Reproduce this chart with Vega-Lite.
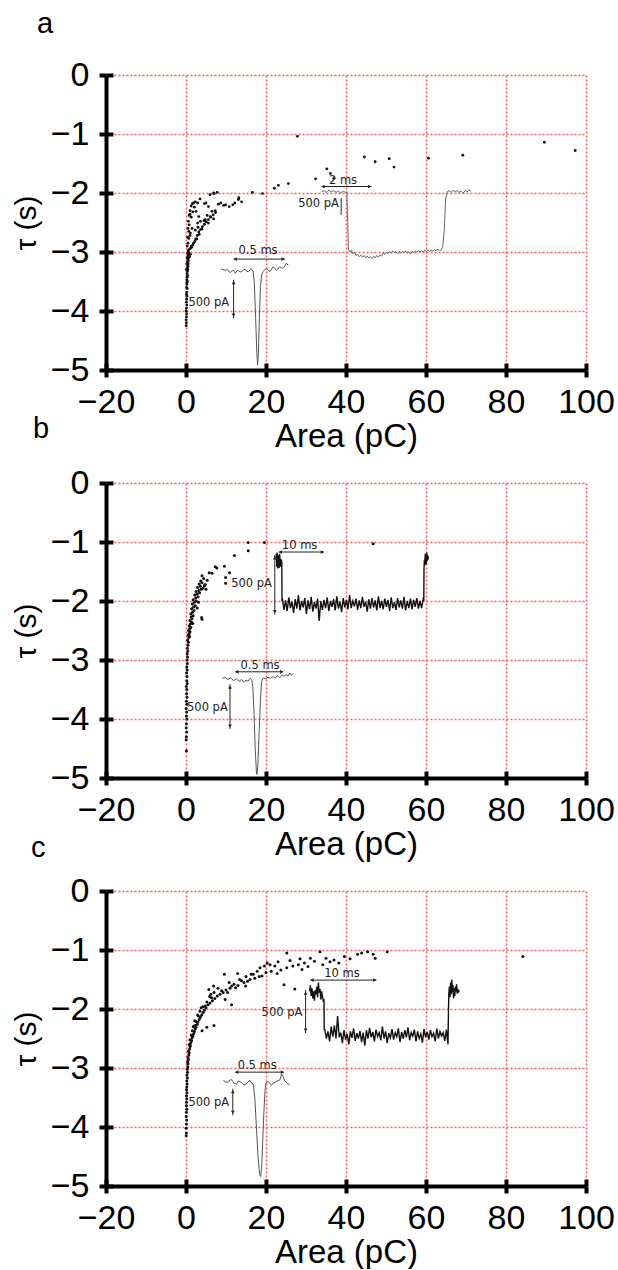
{
  "$schema": "https://vega.github.io/schema/vega-lite/v6.json",
  "background": "white",
  "padding": {"left": 11, "top": 10, "right": 0, "bottom": 0},
  "bounds": "flush",
  "spacing": 113,
  "config": {
    "view": {"stroke": null},
    "font": "Liberation Sans",
    "title": {"font": "Liberation Sans", "fontWeight": "normal", "color": "black", "fontSize": 29, "anchor": "start", "frame": "group", "baseline": "alphabetic"}
  },
  "datasets": {
    "a_pts": [
      {"x":0.05,"y":-4.25},{"x":0.1,"y":-4.2},{"x":0.05,"y":-4.15},{"x":0.12,"y":-4.1},{"x":0.15,"y":-4.05},{"x":0.05,"y":-4.0},{"x":0.1,"y":-3.95},{"x":0.2,"y":-3.9},{"x":0.1,"y":-3.85},{"x":0.15,"y":-3.8},{"x":0.25,"y":-3.75},{"x":0.1,"y":-3.72},{"x":0.2,"y":-3.68},{"x":0.3,"y":-3.62},{"x":0.15,"y":-3.6},{"x":0.25,"y":-3.55},{"x":0.35,"y":-3.5},{"x":0.2,"y":-3.47},{"x":0.3,"y":-3.43},{"x":0.4,"y":-3.4},{"x":0.25,"y":-3.37},{"x":0.35,"y":-3.33},{"x":0.45,"y":-3.3},{"x":0.3,"y":-3.27},{"x":0.5,"y":-3.25},{"x":0.4,"y":-3.22},{"x":0.55,"y":-3.2},{"x":0.35,"y":-3.17},{"x":0.6,"y":-3.15},{"x":0.45,"y":-3.12},{"x":0.65,"y":-3.1},{"x":0.5,"y":-3.07},{"x":0.7,"y":-3.05},{"x":0.4,"y":-3.03},{"x":0.8,"y":-3.02},{"x":0.55,"y":-3.0},{"x":0.2,"y":-3.52},{"x":0.1,"y":-3.3},{"x":0.2,"y":-3.2},{"x":0.3,"y":-3.1},{"x":0.9,"y":-3.08},{"x":1.1,"y":-3.04},
      {"x":0.6,"y":-2.97},{"x":0.9,"y":-2.95},{"x":1.1,"y":-2.94},{"x":1.4,"y":-2.92},{"x":1.3,"y":-2.9},{"x":0.3,"y":-2.9},{"x":1.7,"y":-2.88},{"x":1.9,"y":-2.85},{"x":0.5,"y":-2.85},{"x":2.2,"y":-2.82},{"x":2.4,"y":-2.78},{"x":0.7,"y":-2.77},{"x":2.7,"y":-2.78},{"x":0.4,"y":-2.75},{"x":2.8,"y":-2.72},{"x":1.0,"y":-2.72},{"x":3.3,"y":-2.7},{"x":1.1,"y":-2.68},{"x":3.2,"y":-2.66},{"x":0.7,"y":-2.65},{"x":2.3,"y":-2.63},{"x":3.6,"y":-2.62},{"x":4.0,"y":-2.61},{"x":0.5,"y":-2.6},{"x":1.5,"y":-2.6},{"x":3.0,"y":-2.58},{"x":4.1,"y":-2.57},{"x":0.8,"y":-2.54},{"x":4.6,"y":-2.53},{"x":2.9,"y":-2.51},{"x":5.6,"y":-2.51},{"x":5.1,"y":-2.49},{"x":3.6,"y":-2.48},{"x":0.6,"y":-2.48},{"x":4.5,"y":-2.47},{"x":4.8,"y":-2.45},{"x":5.6,"y":-2.45},{"x":6.9,"y":-2.44},{"x":1.3,"y":-2.41},{"x":6.2,"y":-2.41},{"x":3.2,"y":-2.4},{"x":6.1,"y":-2.4},{"x":0.8,"y":-2.38},{"x":5.3,"y":-2.38},{"x":6.8,"y":-2.37},{"x":1.0,"y":-2.36},{"x":7.4,"y":-2.33},{"x":1.7,"y":-2.32},{"x":2.5,"y":-2.31},{"x":6.5,"y":-2.31},{"x":1.0,"y":-2.3},{"x":7.3,"y":-2.3},{"x":2.1,"y":-2.24},{"x":5.6,"y":-2.23},{"x":1.3,"y":-2.22},{"x":1.6,"y":-2.18},{"x":1.9,"y":-2.17},{"x":2.9,"y":-2.17},{"x":4.6,"y":-2.18},{"x":5.0,"y":-2.17},{"x":2.3,"y":-2.15},{"x":3.5,"y":-2.1},{"x":8.1,"y":-2.19},{"x":9.4,"y":-2.21},{"x":10.8,"y":-2.23},{"x":11.7,"y":-2.2},{"x":8.7,"y":-2.17},{"x":9.9,"y":-2.2},{"x":13.1,"y":-2.11},{"x":13.9,"y":-2.15},{"x":13.2,"y":-2.08},{"x":12.2,"y":-2.17},{"x":6.0,"y":-2.03},{"x":7.0,"y":-2.01},{"x":7.8,"y":-1.99},{"x":6.9,"y":-2.0},{"x":16.6,"y":-1.99},{"x":19.1,"y":-2.01},{"x":22.1,"y":-1.92},{"x":23.1,"y":-1.87},{"x":25.6,"y":-1.84},{"x":32.4,"y":-1.76},{"x":35.2,"y":-1.59},{"x":36.1,"y":-1.67},{"x":37.0,"y":-1.75},{"x":27.85,"y":-1.04},{"x":44.6,"y":-1.39},{"x":47.3,"y":-1.47},{"x":50.8,"y":-1.42},{"x":52.0,"y":-1.56},{"x":60.6,"y":-1.41},{"x":69.2,"y":-1.36},{"x":89.6,"y":-1.14},{"x":97.3,"y":-1.28}
    ],
    "a_spike": [
      {"x":8.8,"y":-3.29},{"x":9.8,"y":-3.31},{"x":10.4,"y":-3.3},{"x":11.0,"y":-3.35},{"x":11.5,"y":-3.32},{"x":11.9,"y":-3.31},{"x":12.3,"y":-3.36},{"x":12.7,"y":-3.32},{"x":13.1,"y":-3.31},{"x":13.5,"y":-3.34},{"x":13.9,"y":-3.33},{"x":14.4,"y":-3.3},{"x":14.8,"y":-3.29},{"x":15.2,"y":-3.33},{"x":15.6,"y":-3.33},{"x":16.0,"y":-3.3},{"x":16.3,"y":-3.28},{"x":16.8,"y":-3.33},{"x":17.1,"y":-3.55},{"x":17.4,"y":-4.1},{"x":17.7,"y":-4.7},{"x":17.9,"y":-4.91},{"x":18.1,"y":-4.72},{"x":18.35,"y":-4.1},{"x":18.6,"y":-3.6},{"x":18.9,"y":-3.39},{"x":19.3,"y":-3.33},{"x":19.8,"y":-3.29},{"x":20.2,"y":-3.28},{"x":20.6,"y":-3.31},{"x":21.0,"y":-3.33},{"x":21.4,"y":-3.29},{"x":21.8,"y":-3.25},{"x":22.2,"y":-3.28},{"x":22.7,"y":-3.31},{"x":23.1,"y":-3.27},{"x":23.5,"y":-3.25},{"x":23.9,"y":-3.27},{"x":24.3,"y":-3.27},{"x":24.7,"y":-3.24},{"x":25.1,"y":-3.19},{"x":25.6,"y":-3.23}
    ],
    "a_step": [
      {"x":33.9,"y":-1.98},{"x":34.5,"y":-1.96},{"x":35.1,"y":-1.99},{"x":35.7,"y":-1.95},{"x":36.3,"y":-1.98},{"x":36.9,"y":-1.96},{"x":37.5,"y":-1.99},{"x":38.1,"y":-1.97},{"x":38.7,"y":-2.0},{"x":39.3,"y":-1.97},{"x":39.9,"y":-1.99},{"x":40.2,"y":-1.98},{"x":40.45,"y":-2.5},{"x":40.6,"y":-2.95},{"x":40.9,"y":-3.0},{"x":41.3,"y":-2.97},{"x":41.7,"y":-3.03},{"x":42.1,"y":-3.0},{"x":42.5,"y":-3.06},{"x":42.9,"y":-3.04},{"x":43.3,"y":-3.08},{"x":43.7,"y":-3.05},{"x":44.1,"y":-3.09},{"x":44.5,"y":-3.06},{"x":44.9,"y":-3.1},{"x":45.3,"y":-3.07},{"x":45.7,"y":-3.1},{"x":46.1,"y":-3.08},{"x":46.5,"y":-3.11},{"x":46.9,"y":-3.07},{"x":47.3,"y":-3.1},{"x":47.7,"y":-3.06},{"x":48.1,"y":-3.09},{"x":48.5,"y":-3.05},{"x":48.9,"y":-3.07},{"x":49.3,"y":-3.02},{"x":49.7,"y":-3.04},{"x":50.1,"y":-3.0},{"x":50.5,"y":-3.03},{"x":50.9,"y":-2.99},{"x":51.3,"y":-3.02},{"x":51.7,"y":-2.98},{"x":52.1,"y":-3.01},{"x":52.5,"y":-3.0},{"x":52.9,"y":-3.03},{"x":53.3,"y":-2.99},{"x":53.7,"y":-3.02},{"x":54.1,"y":-2.99},{"x":54.5,"y":-3.01},{"x":54.9,"y":-2.98},{"x":55.3,"y":-3.02},{"x":55.7,"y":-3.0},{"x":56.1,"y":-3.03},{"x":56.5,"y":-2.99},{"x":56.9,"y":-3.01},{"x":57.3,"y":-2.98},{"x":57.7,"y":-3.0},{"x":58.1,"y":-2.97},{"x":58.5,"y":-3.0},{"x":58.9,"y":-2.98},{"x":59.3,"y":-3.0},{"x":59.7,"y":-2.97},{"x":60.1,"y":-2.99},{"x":60.5,"y":-2.96},{"x":60.9,"y":-2.99},{"x":61.3,"y":-2.97},{"x":61.7,"y":-2.99},{"x":62.1,"y":-2.96},{"x":62.5,"y":-2.98},{"x":62.9,"y":-2.95},{"x":63.3,"y":-2.97},{"x":63.7,"y":-2.98},{"x":64.2,"y":-2.9},{"x":64.6,"y":-2.6},{"x":64.9,"y":-2.1},{"x":65.3,"y":-1.98},{"x":65.8,"y":-1.96},{"x":66.3,"y":-1.99},{"x":66.8,"y":-1.95},{"x":67.3,"y":-1.98},{"x":67.8,"y":-1.96},{"x":68.3,"y":-1.99},{"x":68.8,"y":-1.97},{"x":69.3,"y":-2.0},{"x":69.8,"y":-1.96},{"x":70.3,"y":-1.98},{"x":70.8,"y":-1.95},{"x":71.3,"y":-1.97}
    ],
    "a_rules": [
      {"x":11.9,"x2":24.7,"y":-3.12,"y2":-3.12},{"x":11.9,"x2":11.9,"y":-3.47,"y2":-4.12},{"x":33.85,"x2":46.3,"y":-1.89,"y2":-1.89},{"x":38.8,"x2":38.8,"y":-2.09,"y2":-2.37}
    ],
    "a_heads": [
      {"x":12.3,"y":-3.12,"d":"left"},{"x":24.3,"y":-3.12,"d":"right"},{"x":11.9,"y":-3.52,"d":"up"},{"x":11.9,"y":-4.07,"d":"down"},{"x":34.25,"y":-1.89,"d":"left"},{"x":45.9,"y":-1.89,"d":"right"}
    ],
    "a_ms": [{"x":18.0,"y":-2.98,"t":"0.5 ms"},{"x":39.25,"y":-1.79,"t":"2 ms"}],
    "a_pa": [{"x":10.8,"y":-3.86,"t":"500 pA"},{"x":38.25,"y":-2.19,"t":"500 pA"}],
    "b_pts": [
      {"x":0.1,"y":-4.54},{"x":0.05,"y":-4.35},{"x":0.1,"y":-4.3},{"x":0.15,"y":-4.22},{"x":0.05,"y":-4.15},{"x":0.1,"y":-4.08},{"x":0.2,"y":-4.0},{"x":0.1,"y":-3.95},{"x":0.15,"y":-3.88},{"x":0.05,"y":-3.82},{"x":0.2,"y":-3.75},{"x":0.1,"y":-3.7},{"x":0.25,"y":-3.63},{"x":0.15,"y":-3.57},{"x":0.2,"y":-3.5},{"x":0.1,"y":-3.45},{"x":0.3,"y":-3.4},{"x":0.2,"y":-3.35},{"x":0.25,"y":-3.28},{"x":0.15,"y":-3.22},{"x":0.3,"y":-3.17},{"x":0.2,"y":-3.12},{"x":0.35,"y":-3.06},{"x":0.25,"y":-3.0},{"x":0.4,"y":-2.95},{"x":0.3,"y":-2.9},{"x":0.45,"y":-2.85},{"x":0.35,"y":-2.8},{"x":0.5,"y":-2.75},{"x":0.6,"y":-2.7},{"x":0.4,"y":-2.66},{"x":0.7,"y":-2.62},{"x":0.55,"y":-2.58},{"x":0.8,"y":-2.55},{"x":1.0,"y":-2.52},{"x":0.65,"y":-2.5},{"x":0.9,"y":-2.47},{"x":1.2,"y":-2.45},{"x":0.8,"y":-2.42},{"x":1.1,"y":-2.39},{"x":1.4,"y":-2.36},{"x":1.0,"y":-2.33},{"x":1.5,"y":-2.3},{"x":1.3,"y":-2.27},{"x":1.8,"y":-2.25},{"x":1.2,"y":-2.22},{"x":1.6,"y":-2.19},{"x":2.0,"y":-2.16},{"x":1.4,"y":-2.13},{"x":1.9,"y":-2.1},{"x":2.3,"y":-2.08},{"x":1.6,"y":-2.05},{"x":2.1,"y":-2.02},{"x":2.6,"y":-2.0},{"x":1.8,"y":-1.98},{"x":2.4,"y":-1.95},{"x":3.0,"y":-1.93},{"x":2.2,"y":-1.9},{"x":2.8,"y":-1.88},{"x":3.4,"y":-1.86},{"x":2.5,"y":-1.84},{"x":3.2,"y":-1.82},{"x":3.8,"y":-1.8},{"x":4.3,"y":-1.78},{"x":2.9,"y":-1.77},{"x":3.6,"y":-1.75},{"x":4.6,"y":-1.74},{"x":5.0,"y":-1.8},{"x":3.3,"y":-1.71},{"x":4.0,"y":-1.69},{"x":4.8,"y":-1.72},{"x":3.7,"y":-1.66},{"x":4.4,"y":-1.62},{"x":5.3,"y":-1.65},{"x":4.0,"y":-2.31},{"x":3.9,"y":-2.28},{"x":5.8,"y":-1.52},{"x":4.0,"y":-1.57},{"x":6.5,"y":-1.53},{"x":7.3,"y":-1.42},{"x":7.7,"y":-1.44},{"x":9.6,"y":-1.41},{"x":10.9,"y":-1.52},{"x":9.9,"y":-1.6},{"x":9.9,"y":-1.7},{"x":12.1,"y":-1.23},{"x":15.55,"y":-1.01},{"x":15.55,"y":-1.15},{"x":19.6,"y":-1.01},{"x":46.8,"y":-1.03},{"x":2.8,"y":-2.12},{"x":3.1,"y":-2.02},{"x":0.9,"y":-2.6},{"x":1.7,"y":-2.38}
    ],
    "b_spike": [
      {"x":9.1,"y":-3.31},{"x":9.8,"y":-3.3},{"x":10.5,"y":-3.33},{"x":11.2,"y":-3.3},{"x":11.9,"y":-3.35},{"x":12.6,"y":-3.32},{"x":13.3,"y":-3.36},{"x":13.9,"y":-3.33},{"x":14.5,"y":-3.38},{"x":15.0,"y":-3.34},{"x":15.5,"y":-3.36},{"x":16.0,"y":-3.31},{"x":16.4,"y":-3.33},{"x":16.7,"y":-3.45},{"x":17.0,"y":-3.9},{"x":17.3,"y":-4.5},{"x":17.6,"y":-4.9},{"x":17.75,"y":-4.94},{"x":17.95,"y":-4.8},{"x":18.3,"y":-4.2},{"x":18.6,"y":-3.7},{"x":18.9,"y":-3.36},{"x":19.3,"y":-3.31},{"x":19.9,"y":-3.32},{"x":20.5,"y":-3.29},{"x":21.1,"y":-3.31},{"x":21.7,"y":-3.28},{"x":22.3,"y":-3.3},{"x":22.9,"y":-3.27},{"x":23.5,"y":-3.3},{"x":24.0,"y":-3.25},{"x":24.5,"y":-3.28},{"x":25.0,"y":-3.25},{"x":25.5,"y":-3.27},{"x":26.0,"y":-3.22},{"x":26.4,"y":-3.26},{"x":26.8,"y":-3.23}
    ],
    "b_step": [
      {"x":22.55,"y":-1.3},{"x":22.6,"y":-1.2},{"x":22.7,"y":-1.42},{"x":22.8,"y":-1.18},{"x":22.9,"y":-1.45},{"x":23.0,"y":-1.22},{"x":23.1,"y":-1.4},{"x":23.2,"y":-1.25},{"x":23.3,"y":-1.44},{"x":23.4,"y":-1.2},{"x":23.5,"y":-1.38},{"x":23.6,"y":-1.28},{"x":23.7,"y":-1.42},{"x":23.8,"y":-1.3},{"x":23.95,"y":-1.35},{"x":24.0,"y":-2.0},
      {"x":24.1,"y":-1.96},{"x":24.5,"y":-2.15},{"x":24.9,"y":-1.99},{"x":25.3,"y":-2.17},{"x":25.7,"y":-1.94},{"x":26.1,"y":-2.12},{"x":26.5,"y":-2.01},{"x":26.9,"y":-2.2},{"x":27.3,"y":-1.97},{"x":27.7,"y":-2.13},{"x":28.1,"y":-1.9},{"x":28.5,"y":-2.16},{"x":28.9,"y":-2.0},{"x":29.3,"y":-2.11},{"x":29.7,"y":-1.95},{"x":30.1,"y":-2.22},{"x":30.5,"y":-1.99},{"x":30.9,"y":-2.14},{"x":31.3,"y":-1.93},{"x":31.7,"y":-2.18},{"x":32.1,"y":-2.02},{"x":32.5,"y":-2.13},{"x":32.9,"y":-1.96},{"x":33.3,"y":-2.34},{"x":33.7,"y":-2.0},{"x":34.1,"y":-2.15},{"x":34.5,"y":-1.98},{"x":34.9,"y":-2.12},{"x":35.3,"y":-1.94},{"x":35.7,"y":-2.17},{"x":36.1,"y":-2.0},{"x":36.5,"y":-2.1},{"x":36.9,"y":-1.97},{"x":37.3,"y":-2.16},{"x":37.7,"y":-1.92},{"x":38.1,"y":-2.13},{"x":38.5,"y":-2.01},{"x":38.9,"y":-2.19},{"x":39.3,"y":-1.95},{"x":39.7,"y":-2.11},{"x":40.1,"y":-1.98},{"x":40.5,"y":-2.14},{"x":40.9,"y":-1.9},{"x":41.3,"y":-2.12},{"x":41.7,"y":-2.0},{"x":42.1,"y":-2.09},{"x":42.5,"y":-1.96},{"x":42.9,"y":-2.15},{"x":43.3,"y":-1.99},{"x":43.7,"y":-2.12},{"x":44.1,"y":-1.93},{"x":44.5,"y":-2.1},{"x":44.9,"y":-2.01},{"x":45.3,"y":-2.18},{"x":45.7,"y":-1.97},{"x":46.1,"y":-2.13},{"x":46.5,"y":-1.95},{"x":46.9,"y":-2.11},{"x":47.3,"y":-1.99},{"x":47.7,"y":-2.16},{"x":48.1,"y":-1.92},{"x":48.5,"y":-2.12},{"x":48.9,"y":-2.0},{"x":49.3,"y":-2.14},{"x":49.7,"y":-1.96},{"x":50.1,"y":-2.1},{"x":50.5,"y":-1.98},{"x":50.9,"y":-2.17},{"x":51.3,"y":-1.94},{"x":51.7,"y":-2.12},{"x":52.1,"y":-2.02},{"x":52.5,"y":-2.15},{"x":52.9,"y":-1.95},{"x":53.3,"y":-2.11},{"x":53.7,"y":-1.99},{"x":54.1,"y":-2.13},{"x":54.5,"y":-1.93},{"x":54.9,"y":-2.16},{"x":55.3,"y":-2.0},{"x":55.7,"y":-2.12},{"x":56.1,"y":-1.96},{"x":56.5,"y":-2.14},{"x":56.9,"y":-1.98},{"x":57.3,"y":-2.1},{"x":57.7,"y":-1.95},{"x":58.1,"y":-2.13},{"x":58.5,"y":-2.0},{"x":58.9,"y":-2.12},{"x":59.3,"y":-1.97},
      {"x":59.45,"y":-2.0},{"x":59.5,"y":-1.45},{"x":59.6,"y":-1.3},{"x":59.7,"y":-1.4},{"x":59.8,"y":-1.2},{"x":59.9,"y":-1.35},{"x":60.0,"y":-1.22},{"x":60.1,"y":-1.38},{"x":60.2,"y":-1.18},{"x":60.3,"y":-1.32},{"x":60.4,"y":-1.22},{"x":60.5,"y":-1.3},{"x":60.6,"y":-1.25}
    ],
    "b_rules": [
      {"x":23.2,"x2":34.5,"y":-1.17,"y2":-1.17},{"x":22.2,"x2":22.2,"y":-1.22,"y2":-2.23},{"x":12.3,"x2":24.3,"y":-3.2,"y2":-3.2},{"x":11.0,"x2":11.0,"y":-3.41,"y2":-4.17}
    ],
    "b_heads": [
      {"x":23.6,"y":-1.17,"d":"left"},{"x":34.1,"y":-1.17,"d":"right"},{"x":22.2,"y":-1.27,"d":"up"},{"x":22.2,"y":-2.18,"d":"down"},{"x":12.7,"y":-3.2,"d":"left"},{"x":23.9,"y":-3.2,"d":"right"},{"x":11.0,"y":-3.46,"d":"up"},{"x":11.0,"y":-4.12,"d":"down"}
    ],
    "b_ms": [{"x":28.4,"y":-1.06,"t":"10 ms"},{"x":18.5,"y":-3.1,"t":"0.5 ms"}],
    "b_pa": [{"x":21.5,"y":-1.72,"t":"500 pA"},{"x":10.45,"y":-3.81,"t":"500 pA"}],
    "c_pts": [
      {"x":0.05,"y":-4.15},{"x":0.1,"y":-4.1},{"x":0.05,"y":-4.02},{"x":0.1,"y":-3.95},{"x":0.15,"y":-3.88},{"x":0.05,"y":-3.82},{"x":0.1,"y":-3.75},{"x":0.2,"y":-3.7},{"x":0.1,"y":-3.64},{"x":0.15,"y":-3.58},{"x":0.2,"y":-3.52},{"x":0.1,"y":-3.47},{"x":0.25,"y":-3.42},{"x":0.15,"y":-3.37},{"x":0.2,"y":-3.32},{"x":0.3,"y":-3.27},{"x":0.2,"y":-3.22},{"x":0.35,"y":-3.17},{"x":0.25,"y":-3.12},{"x":0.4,"y":-3.07},{"x":0.3,"y":-3.02},{"x":0.45,"y":-2.98},{"x":0.5,"y":-2.93},{"x":0.4,"y":-2.9},{"x":0.6,"y":-2.86},{"x":0.5,"y":-2.82},{"x":0.7,"y":-2.78},{"x":0.8,"y":-2.74},{"x":0.6,"y":-2.71},{"x":0.9,"y":-2.68},{"x":1.0,"y":-2.64},{"x":1.1,"y":-2.62},{"x":0.8,"y":-2.6},{"x":1.2,"y":-2.57},{"x":1.4,"y":-2.54},{"x":1.0,"y":-2.52},{"x":1.5,"y":-2.49},{"x":1.7,"y":-2.46},{"x":1.3,"y":-2.44},{"x":1.5,"y":-2.45},{"x":1.9,"y":-2.42},{"x":2.1,"y":-2.38},{"x":1.6,"y":-2.37},{"x":2.3,"y":-2.34},{"x":2.5,"y":-2.31},{"x":2.0,"y":-2.29},{"x":2.3,"y":-2.28},{"x":2.8,"y":-2.26},{"x":3.0,"y":-2.22},{"x":2.5,"y":-2.21},{"x":3.3,"y":-2.18},{"x":3.1,"y":-2.12},{"x":3.6,"y":-2.14},{"x":2.9,"y":-2.1},{"x":3.9,"y":-2.1},{"x":4.3,"y":-2.06},{"x":3.5,"y":-2.04},{"x":4.6,"y":-2.02},{"x":4.8,"y":-1.95},{"x":5.0,"y":-1.98},{"x":4.2,"y":-1.96},{"x":5.5,"y":-1.93},{"x":6.0,"y":-1.9},{"x":5.2,"y":-1.88},{"x":6.4,"y":-1.81},{"x":6.6,"y":-1.86},{"x":7.2,"y":-1.82},{"x":5.9,"y":-1.79},{"x":7.8,"y":-1.78},{"x":8.5,"y":-1.75},{"x":8.9,"y":-1.69},{"x":7.0,"y":-1.72},{"x":9.3,"y":-1.72},{"x":10.0,"y":-1.68},{"x":6.9,"y":-1.61},{"x":5.7,"y":-1.67},{"x":9.8,"y":-1.84},{"x":11.4,"y":-1.93},{"x":10.4,"y":-1.72},{"x":11.0,"y":-1.65},{"x":11.4,"y":-1.61},{"x":12.4,"y":-1.64},{"x":12.0,"y":-1.58},{"x":13.0,"y":-1.6},{"x":13.9,"y":-1.52},{"x":14.9,"y":-1.61},{"x":15.4,"y":-1.53},{"x":13.4,"y":-1.5},{"x":14.5,"y":-1.55},{"x":16.0,"y":-1.5},{"x":16.3,"y":-1.41},{"x":16.8,"y":-1.41},{"x":17.8,"y":-1.36},{"x":18.3,"y":-1.45},{"x":17.2,"y":-1.48},{"x":19.0,"y":-1.44},{"x":19.6,"y":-1.27},{"x":20.3,"y":-1.22},{"x":20.0,"y":-1.38},{"x":21.3,"y":-1.36},{"x":22.2,"y":-1.27},{"x":22.8,"y":-1.4},{"x":23.7,"y":-1.34},{"x":24.5,"y":-1.59},{"x":25.2,"y":-1.3},{"x":25.2,"y":-1.05},{"x":26.7,"y":-1.27},{"x":27.2,"y":-1.66},{"x":28.1,"y":-1.25},{"x":29.0,"y":-1.33},{"x":29.6,"y":-1.22},{"x":30.5,"y":-1.28},{"x":31.1,"y":-1.14},{"x":32.1,"y":-1.19},{"x":33.5,"y":-1.03},{"x":34.2,"y":-1.25},{"x":35.0,"y":-1.14},{"x":36.0,"y":-1.2},{"x":37.0,"y":-1.17},{"x":38.2,"y":-1.22},{"x":39.6,"y":-1.11},{"x":41.0,"y":-1.15},{"x":42.9,"y":-1.07},{"x":43.9,"y":-1.05},{"x":45.4,"y":-1.03},{"x":46.8,"y":-1.07},{"x":47.3,"y":-1.14},{"x":50.3,"y":-1.03},{"x":84.2,"y":-1.11},{"x":9.6,"y":-1.41},{"x":12.9,"y":-1.4},{"x":7.0,"y":-2.28},{"x":4.0,"y":-2.37},{"x":5.2,"y":-2.31},{"x":8.0,"y":-1.65},{"x":10.8,"y":-1.55},{"x":15.0,"y":-1.45},{"x":18.5,"y":-1.3},{"x":21.0,"y":-1.25},{"x":23.0,"y":-1.2},{"x":26.0,"y":-1.18},{"x":28.5,"y":-1.15},{"x":2.2,"y":-2.2},{"x":3.8,"y":-1.98},{"x":6.2,"y":-1.75},{"x":1.8,"y":-2.3}
    ],
    "c_spike": [
      {"x":9.35,"y":-3.21},{"x":10.0,"y":-3.24},{"x":10.6,"y":-3.24},{"x":11.0,"y":-3.2},{"x":11.4,"y":-3.2},{"x":12.0,"y":-3.26},{"x":12.7,"y":-3.27},{"x":13.1,"y":-3.22},{"x":13.5,"y":-3.23},{"x":14.2,"y":-3.27},{"x":14.8,"y":-3.29},{"x":15.4,"y":-3.24},{"x":16.0,"y":-3.21},{"x":16.4,"y":-3.26},{"x":16.8,"y":-3.27},{"x":17.2,"y":-3.5},{"x":17.6,"y":-4.0},{"x":18.0,"y":-4.5},{"x":18.4,"y":-4.8},{"x":18.66,"y":-4.84},{"x":18.9,"y":-4.7},{"x":19.2,"y":-4.2},{"x":19.5,"y":-3.7},{"x":19.8,"y":-3.35},{"x":20.0,"y":-3.25},{"x":20.6,"y":-3.23},{"x":21.0,"y":-3.27},{"x":21.4,"y":-3.29},{"x":21.8,"y":-3.25},{"x":22.2,"y":-3.25},{"x":22.8,"y":-3.22},{"x":23.5,"y":-3.2},{"x":23.9,"y":-3.1},{"x":24.3,"y":-3.15},{"x":24.7,"y":-3.22},{"x":25.1,"y":-3.24},{"x":25.5,"y":-3.27},{"x":25.9,"y":-3.28}
    ],
    "c_step": [
      {"x":30.9,"y":-1.7},{"x":31.1,"y":-1.6},{"x":31.3,"y":-1.78},{"x":31.5,"y":-1.65},{"x":31.7,"y":-1.82},{"x":31.9,"y":-1.7},{"x":32.1,"y":-1.86},{"x":32.3,"y":-1.68},{"x":32.5,"y":-1.75},{"x":32.7,"y":-1.62},{"x":32.9,"y":-1.8},{"x":33.1,"y":-1.55},{"x":33.3,"y":-1.72},{"x":33.5,"y":-1.66},{"x":33.7,"y":-1.84},{"x":33.9,"y":-1.7},{"x":34.1,"y":-1.78},{"x":34.3,"y":-1.86},{"x":34.5,"y":-1.85},{"x":34.55,"y":-2.35},
      {"x":34.7,"y":-2.35},{"x":35.1,"y":-2.5},{"x":35.5,"y":-2.38},{"x":35.9,"y":-2.55},{"x":36.3,"y":-2.3},{"x":36.7,"y":-2.47},{"x":37.1,"y":-2.28},{"x":37.5,"y":-2.5},{"x":37.9,"y":-2.12},{"x":38.3,"y":-2.48},{"x":38.7,"y":-2.4},{"x":39.1,"y":-2.58},{"x":39.5,"y":-2.36},{"x":39.9,"y":-2.52},{"x":40.3,"y":-2.42},{"x":40.7,"y":-2.6},{"x":41.1,"y":-2.38},{"x":41.5,"y":-2.49},{"x":41.9,"y":-2.33},{"x":42.3,"y":-2.54},{"x":42.7,"y":-2.41},{"x":43.1,"y":-2.5},{"x":43.5,"y":-2.37},{"x":43.9,"y":-2.56},{"x":44.3,"y":-2.4},{"x":44.7,"y":-2.62},{"x":45.1,"y":-2.36},{"x":45.5,"y":-2.5},{"x":45.9,"y":-2.32},{"x":46.3,"y":-2.48},{"x":46.7,"y":-2.39},{"x":47.1,"y":-2.55},{"x":47.5,"y":-2.35},{"x":47.9,"y":-2.47},{"x":48.3,"y":-2.4},{"x":48.7,"y":-2.53},{"x":49.1,"y":-2.3},{"x":49.5,"y":-2.5},{"x":49.9,"y":-2.38},{"x":50.3,"y":-2.58},{"x":50.7,"y":-2.41},{"x":51.1,"y":-2.49},{"x":51.5,"y":-2.34},{"x":51.9,"y":-2.52},{"x":52.3,"y":-2.4},{"x":52.7,"y":-2.47},{"x":53.1,"y":-2.33},{"x":53.5,"y":-2.56},{"x":53.9,"y":-2.39},{"x":54.3,"y":-2.5},{"x":54.7,"y":-2.36},{"x":55.1,"y":-2.48},{"x":55.5,"y":-2.31},{"x":55.9,"y":-2.53},{"x":56.3,"y":-2.4},{"x":56.7,"y":-2.46},{"x":57.1,"y":-2.35},{"x":57.5,"y":-2.55},{"x":57.9,"y":-2.38},{"x":58.3,"y":-2.5},{"x":58.7,"y":-2.42},{"x":59.1,"y":-2.57},{"x":59.5,"y":-2.34},{"x":59.9,"y":-2.48},{"x":60.3,"y":-2.39},{"x":60.7,"y":-2.52},{"x":61.1,"y":-2.36},{"x":61.5,"y":-2.47},{"x":61.9,"y":-2.41},{"x":62.3,"y":-2.55},{"x":62.7,"y":-2.33},{"x":63.1,"y":-2.5},{"x":63.5,"y":-2.38},{"x":63.9,"y":-2.46},{"x":64.3,"y":-2.4},{"x":64.7,"y":-2.54},{"x":65.1,"y":-2.35},{"x":65.5,"y":-2.6},
      {"x":65.6,"y":-2.1},{"x":65.7,"y":-1.75},{"x":65.85,"y":-1.62},{"x":66.0,"y":-1.8},{"x":66.15,"y":-1.55},{"x":66.3,"y":-1.75},{"x":66.45,"y":-1.5},{"x":66.6,"y":-1.72},{"x":66.75,"y":-1.6},{"x":66.9,"y":-1.82},{"x":67.05,"y":-1.65},{"x":67.2,"y":-1.78},{"x":67.35,"y":-1.62},{"x":67.5,"y":-1.7},{"x":67.65,"y":-1.58},{"x":67.8,"y":-1.74},{"x":67.95,"y":-1.66},{"x":68.1,"y":-1.72},{"x":68.3,"y":-1.68}
    ],
    "c_rules": [
      {"x":31.1,"x2":47.6,"y":-1.51,"y2":-1.51},{"x":29.9,"x2":29.9,"y":-1.68,"y2":-2.41},{"x":12.3,"x2":24.5,"y":-3.07,"y2":-3.07},{"x":11.7,"x2":11.7,"y":-3.35,"y2":-3.8}
    ],
    "c_heads": [
      {"x":31.5,"y":-1.51,"d":"left"},{"x":47.2,"y":-1.51,"d":"right"},{"x":29.9,"y":-1.73,"d":"up"},{"x":29.9,"y":-2.36,"d":"down"},{"x":12.7,"y":-3.07,"d":"left"},{"x":24.1,"y":-3.07,"d":"right"},{"x":11.7,"y":-3.4,"d":"up"},{"x":11.7,"y":-3.75,"d":"down"}
    ],
    "c_ms": [{"x":39.0,"y":-1.4,"t":"10 ms"},{"x":17.8,"y":-2.97,"t":"0.5 ms"}],
    "c_pa": [{"x":29.1,"y":-2.06,"t":"500 pA"},{"x":10.8,"y":-3.6,"t":"500 pA"}]
  },
  "vconcat": [
    {
      "title": {"text": "a", "dx": -69, "offset": 19},
      "width": 480, "height": 295,
      "resolve": {"axis": {"x": "independent", "y": "independent"}},
      "layer": [
        {"data": {"name": "a_pts"}, "mark": {"type": "circle", "size": 8, "color": "#111", "opacity": 1},
         "encoding": {
           "x": {"field": "x", "type": "quantitative", "scale": {"domain": [-20, 100], "nice": false, "zero": false},
                 "axis": {"orient": "bottom", "values": [-20, 0, 20, 40, 60, 80, 100], "title": "Area (pC)", "grid": true, "gridColor": "#ff5a5a", "gridDash": [2, 2], "gridWidth": 1.5, "domainColor": "black", "domainWidth": 4, "tickColor": "black", "tickWidth": 4, "tickSize": 7, "labelFont": "Liberation Sans", "labelFontSize": 34, "labelColor": "black", "labelPadding": 8, "labelFlush": false, "labelOverlap": false, "labelBound": false, "titleFont": "Liberation Sans", "titleFontSize": 33, "titleFontWeight": "normal", "titleColor": "black", "titlePadding": 1}},
           "y": {"field": "y", "type": "quantitative", "scale": {"domain": [-5, 0], "nice": false, "zero": false},
                 "axis": {"orient": "left", "values": [-5, -4, -3, -2, -1, 0], "title": "τ (s)", "grid": true, "gridColor": "#ff5a5a", "gridDash": [2, 2], "gridWidth": 1.5, "domainColor": "black", "domainWidth": 4, "tickColor": "black", "tickWidth": 4, "tickSize": 7, "labelFont": "Liberation Sans", "labelFontSize": 34, "labelColor": "black", "labelPadding": 10, "labelFlush": false, "labelOverlap": false, "labelBound": false, "titleFont": "Liberation Sans", "titleFontSize": 30, "titleFontWeight": "normal", "titleColor": "black", "titlePadding": 9}}
         }},
        {"data": {"name": "a_spike"}, "mark": {"type": "line", "color": "#555", "strokeWidth": 1},
         "encoding": {
           "x": {"field": "x", "type": "quantitative", "axis": {"orient": "bottom", "values": [-20, 0, 20, 40, 60, 80, 100], "title": null, "labels": false, "domain": false, "grid": false, "tickColor": "black", "tickWidth": 4, "tickSize": -7}},
           "y": {"field": "y", "type": "quantitative", "axis": {"orient": "left", "values": [-5, -4, -3, -2, -1, 0], "title": null, "labels": false, "domain": false, "grid": false, "tickColor": "black", "tickWidth": 4, "tickSize": -7}}
         }},
        {"data": {"name": "a_step"}, "mark": {"type": "line", "color": "#666", "strokeWidth": 1},
         "encoding": {"x": {"field": "x", "type": "quantitative", "axis": null}, "y": {"field": "y", "type": "quantitative", "axis": null}}},
        {"data": {"name": "a_rules"}, "mark": {"type": "rule", "color": "#222", "strokeWidth": 1},
         "encoding": {"x": {"field": "x", "type": "quantitative", "axis": null}, "x2": {"field": "x2"}, "y": {"field": "y", "type": "quantitative", "axis": null}, "y2": {"field": "y2"}}},
        {"data": {"name": "a_heads"}, "mark": {"type": "point", "filled": true, "size": 14, "color": "#222", "opacity": 1},
         "encoding": {"x": {"field": "x", "type": "quantitative", "axis": null}, "y": {"field": "y", "type": "quantitative", "axis": null},
           "shape": {"field": "d", "type": "nominal", "scale": {"domain": ["left", "right", "up", "down"], "range": ["triangle-left", "triangle-right", "triangle-up", "triangle-down"]}, "legend": null}}},
        {"data": {"name": "a_ms"}, "mark": {"type": "text", "font": "DejaVu Sans", "fontSize": 11.5, "color": "#222", "align": "center", "baseline": "middle"},
         "encoding": {"x": {"field": "x", "type": "quantitative", "axis": null}, "y": {"field": "y", "type": "quantitative", "axis": null}, "text": {"field": "t"}}},
        {"data": {"name": "a_pa"}, "mark": {"type": "text", "font": "DejaVu Sans", "fontSize": 11.5, "color": "#222", "align": "right", "baseline": "middle"},
         "encoding": {"x": {"field": "x", "type": "quantitative", "axis": null}, "y": {"field": "y", "type": "quantitative", "axis": null}, "text": {"field": "t"}}}
      ]
    },
    {
      "title": {"text": "b", "dx": -73, "offset": 22},
      "width": 480, "height": 295,
      "resolve": {"axis": {"x": "independent", "y": "independent"}},
      "layer": [
        {"data": {"name": "b_pts"}, "mark": {"type": "circle", "size": 9, "color": "#111", "opacity": 1},
         "encoding": {
           "x": {"field": "x", "type": "quantitative", "scale": {"domain": [-20, 100], "nice": false, "zero": false},
                 "axis": {"orient": "bottom", "values": [-20, 0, 20, 40, 60, 80, 100], "title": "Area (pC)", "grid": true, "gridColor": "#ff5a5a", "gridDash": [2, 2], "gridWidth": 1.5, "domainColor": "black", "domainWidth": 4, "tickColor": "black", "tickWidth": 4, "tickSize": 7, "labelFont": "Liberation Sans", "labelFontSize": 34, "labelColor": "black", "labelPadding": 8, "labelFlush": false, "labelOverlap": false, "labelBound": false, "titleFont": "Liberation Sans", "titleFontSize": 33, "titleFontWeight": "normal", "titleColor": "black", "titlePadding": 1}},
           "y": {"field": "y", "type": "quantitative", "scale": {"domain": [-5, 0], "nice": false, "zero": false},
                 "axis": {"orient": "left", "values": [-5, -4, -3, -2, -1, 0], "title": "τ (s)", "grid": true, "gridColor": "#ff5a5a", "gridDash": [2, 2], "gridWidth": 1.5, "domainColor": "black", "domainWidth": 4, "tickColor": "black", "tickWidth": 4, "tickSize": 7, "labelFont": "Liberation Sans", "labelFontSize": 34, "labelColor": "black", "labelPadding": 10, "labelFlush": false, "labelOverlap": false, "labelBound": false, "titleFont": "Liberation Sans", "titleFontSize": 30, "titleFontWeight": "normal", "titleColor": "black", "titlePadding": 9}}
         }},
        {"data": {"name": "b_spike"}, "mark": {"type": "line", "color": "#555", "strokeWidth": 1},
         "encoding": {
           "x": {"field": "x", "type": "quantitative", "axis": {"orient": "bottom", "values": [-20, 0, 20, 40, 60, 80, 100], "title": null, "labels": false, "domain": false, "grid": false, "tickColor": "black", "tickWidth": 4, "tickSize": -7}},
           "y": {"field": "y", "type": "quantitative", "axis": {"orient": "left", "values": [-5, -4, -3, -2, -1, 0], "title": null, "labels": false, "domain": false, "grid": false, "tickColor": "black", "tickWidth": 4, "tickSize": -7}}
         }},
        {"data": {"name": "b_step"}, "mark": {"type": "line", "color": "#111", "strokeWidth": 1.4},
         "encoding": {"x": {"field": "x", "type": "quantitative", "axis": null}, "y": {"field": "y", "type": "quantitative", "axis": null}}},
        {"data": {"name": "b_rules"}, "mark": {"type": "rule", "color": "#222", "strokeWidth": 1},
         "encoding": {"x": {"field": "x", "type": "quantitative", "axis": null}, "x2": {"field": "x2"}, "y": {"field": "y", "type": "quantitative", "axis": null}, "y2": {"field": "y2"}}},
        {"data": {"name": "b_heads"}, "mark": {"type": "point", "filled": true, "size": 14, "color": "#222", "opacity": 1},
         "encoding": {"x": {"field": "x", "type": "quantitative", "axis": null}, "y": {"field": "y", "type": "quantitative", "axis": null},
           "shape": {"field": "d", "type": "nominal", "scale": {"domain": ["left", "right", "up", "down"], "range": ["triangle-left", "triangle-right", "triangle-up", "triangle-down"]}, "legend": null}}},
        {"data": {"name": "b_ms"}, "mark": {"type": "text", "font": "DejaVu Sans", "fontSize": 11.5, "color": "#222", "align": "center", "baseline": "middle"},
         "encoding": {"x": {"field": "x", "type": "quantitative", "axis": null}, "y": {"field": "y", "type": "quantitative", "axis": null}, "text": {"field": "t"}}},
        {"data": {"name": "b_pa"}, "mark": {"type": "text", "font": "DejaVu Sans", "fontSize": 11.5, "color": "#222", "align": "right", "baseline": "middle"},
         "encoding": {"x": {"field": "x", "type": "quantitative", "axis": null}, "y": {"field": "y", "type": "quantitative", "axis": null}, "text": {"field": "t"}}}
      ]
    },
    {
      "title": {"text": "c", "dx": -75, "offset": 11},
      "width": 480, "height": 295,
      "resolve": {"axis": {"x": "independent", "y": "independent"}},
      "layer": [
        {"data": {"name": "c_pts"}, "mark": {"type": "circle", "size": 9, "color": "#111", "opacity": 1},
         "encoding": {
           "x": {"field": "x", "type": "quantitative", "scale": {"domain": [-20, 100], "nice": false, "zero": false},
                 "axis": {"orient": "bottom", "values": [-20, 0, 20, 40, 60, 80, 100], "title": "Area (pC)", "grid": true, "gridColor": "#ff5a5a", "gridDash": [2, 2], "gridWidth": 1.5, "domainColor": "black", "domainWidth": 4, "tickColor": "black", "tickWidth": 4, "tickSize": 7, "labelFont": "Liberation Sans", "labelFontSize": 34, "labelColor": "black", "labelPadding": 8, "labelFlush": false, "labelOverlap": false, "labelBound": false, "titleFont": "Liberation Sans", "titleFontSize": 33, "titleFontWeight": "normal", "titleColor": "black", "titlePadding": 1}},
           "y": {"field": "y", "type": "quantitative", "scale": {"domain": [-5, 0], "nice": false, "zero": false},
                 "axis": {"orient": "left", "values": [-5, -4, -3, -2, -1, 0], "title": "τ (s)", "grid": true, "gridColor": "#ff5a5a", "gridDash": [2, 2], "gridWidth": 1.5, "domainColor": "black", "domainWidth": 4, "tickColor": "black", "tickWidth": 4, "tickSize": 7, "labelFont": "Liberation Sans", "labelFontSize": 34, "labelColor": "black", "labelPadding": 10, "labelFlush": false, "labelOverlap": false, "labelBound": false, "titleFont": "Liberation Sans", "titleFontSize": 30, "titleFontWeight": "normal", "titleColor": "black", "titlePadding": 9}}
         }},
        {"data": {"name": "c_spike"}, "mark": {"type": "line", "color": "#555", "strokeWidth": 1},
         "encoding": {
           "x": {"field": "x", "type": "quantitative", "axis": {"orient": "bottom", "values": [-20, 0, 20, 40, 60, 80, 100], "title": null, "labels": false, "domain": false, "grid": false, "tickColor": "black", "tickWidth": 4, "tickSize": -7}},
           "y": {"field": "y", "type": "quantitative", "axis": {"orient": "left", "values": [-5, -4, -3, -2, -1, 0], "title": null, "labels": false, "domain": false, "grid": false, "tickColor": "black", "tickWidth": 4, "tickSize": -7}}
         }},
        {"data": {"name": "c_step"}, "mark": {"type": "line", "color": "#111", "strokeWidth": 1.4},
         "encoding": {"x": {"field": "x", "type": "quantitative", "axis": null}, "y": {"field": "y", "type": "quantitative", "axis": null}}},
        {"data": {"name": "c_rules"}, "mark": {"type": "rule", "color": "#222", "strokeWidth": 1},
         "encoding": {"x": {"field": "x", "type": "quantitative", "axis": null}, "x2": {"field": "x2"}, "y": {"field": "y", "type": "quantitative", "axis": null}, "y2": {"field": "y2"}}},
        {"data": {"name": "c_heads"}, "mark": {"type": "point", "filled": true, "size": 14, "color": "#222", "opacity": 1},
         "encoding": {"x": {"field": "x", "type": "quantitative", "axis": null}, "y": {"field": "y", "type": "quantitative", "axis": null},
           "shape": {"field": "d", "type": "nominal", "scale": {"domain": ["left", "right", "up", "down"], "range": ["triangle-left", "triangle-right", "triangle-up", "triangle-down"]}, "legend": null}}},
        {"data": {"name": "c_ms"}, "mark": {"type": "text", "font": "DejaVu Sans", "fontSize": 11.5, "color": "#222", "align": "center", "baseline": "middle"},
         "encoding": {"x": {"field": "x", "type": "quantitative", "axis": null}, "y": {"field": "y", "type": "quantitative", "axis": null}, "text": {"field": "t"}}},
        {"data": {"name": "c_pa"}, "mark": {"type": "text", "font": "DejaVu Sans", "fontSize": 11.5, "color": "#222", "align": "right", "baseline": "middle"},
         "encoding": {"x": {"field": "x", "type": "quantitative", "axis": null}, "y": {"field": "y", "type": "quantitative", "axis": null}, "text": {"field": "t"}}}
      ]
    }
  ]
}
